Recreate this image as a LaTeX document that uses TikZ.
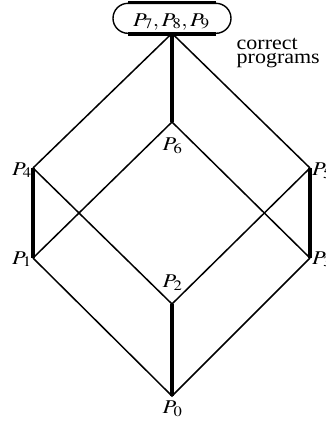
\documentclass[tikz,border=0pt]{standalone}
\usepackage{mathptmx}
\usepackage{fontspec}
\setmainfont{Liberation Serif}
\newcommand\widen[2]{\scalebox{#1}[1]{#2}}
\begin{document}
\begin{tikzpicture}[x=1pt,y=-1pt,
  thinline/.style={line width=1.5pt},
  thickline/.style={line width=3.2pt},
  lab/.style={inner sep=0pt, font=\fontsize{19.5}{20}\selectfont},
  boxstyle/.style={draw, line width=1.4pt, minimum width=118pt, minimum height=30pt, rounded corners=15pt, inner sep=0pt},
]
\useasboundingbox (0,0) rectangle (325,424);
\clip (0,0) rectangle (325,424);
% box
\node[boxstyle] (box) at (172,18.3) {};
\draw[thickline] ([xshift=-44pt]box.north) -- ([xshift=44pt]box.north);
\draw[thickline] ([xshift=-44pt]box.south) -- ([xshift=44pt]box.south);
\node[lab, anchor=base] (toplab) at (171.5,26) {\widen{1.15}{$P_7,P_8,P_9$}};
\node[anchor=base west, inner sep=0pt, font=\fontsize{20}{13.7}\selectfont] (cp) at (236.5,49)
  {\widen{1.1}{\begin{tabular}[t]{@{}l@{}}correct\\programs\end{tabular}}};
% vertices
\coordinate (T) at (172,33.3);
\coordinate (V6) at (172,122);
\coordinate (V4) at (33,168);
\coordinate (V5) at (310,168);
\coordinate (V1) at (33,258);
\coordinate (V3) at (310,258);
\coordinate (V2) at (172,304);
\coordinate (V0) at (172,396);
% edges
\draw[thinline] (V4) -- (T) -- (V5);
\draw[thickline] (T) -- (V6);
\draw[thickline] (V4) -- (V1);
\draw[thickline] (V5) -- (V3);
\draw[thickline] (V2) -- (V0);
\draw[thinline] (V1) -- (V6) -- (V3);
\draw[thinline] (V4) -- (V2) -- (V5);
\draw[thinline] (V1) -- (V0) -- (V3);
% labels
\node[lab, anchor=base east] (L4) at (32,175) {\widen{1.15}{$P_4$}};
\node[lab, anchor=base east] (L1) at (32,264) {\widen{1.15}{$P_1$}};
\node[lab, anchor=base west] (L5) at (312,175) {\widen{1.15}{$P_5$}};
\node[lab, anchor=base west] (L3) at (312,264) {\widen{1.15}{$P_3$}};
\node[lab, anchor=base] (L6) at (172.5,150.5) {\widen{1.15}{$P_6$}};
\node[lab, anchor=base] (L2) at (172.5,287.5) {\widen{1.15}{$P_2$}};
\node[lab, anchor=base] (L0) at (172.5,413.5) {\widen{1.15}{$P_0$}};
\end{tikzpicture}
\end{document}
